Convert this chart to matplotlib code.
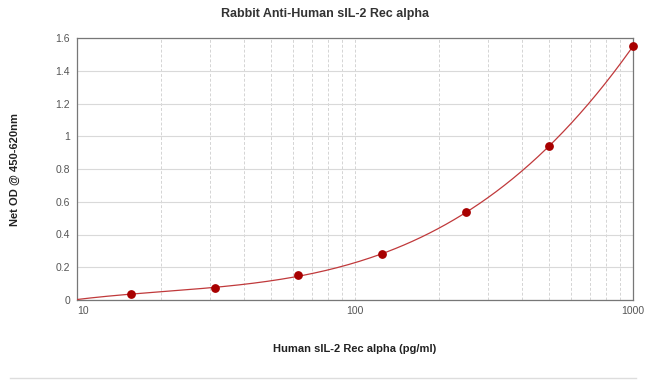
import numpy as np
import matplotlib
matplotlib.use('Agg')
import matplotlib.pyplot as plt
from matplotlib.ticker import FixedLocator, NullFormatter

# Datos
conc = [15.6, 31.25, 62.5, 125, 250, 500, 1000]
od = [0.037, 0.073, 0.15, 0.28, 0.535, 0.94, 1.55]
x_ticks = [10, 100, 1000]
x_tick_labels = ['10', '100', '1000']
y_ticks = [0, 0.2, 0.4, 0.6, 0.8, 1.0, 1.2, 1.4, 1.6]
y_tick_labels = ['0', '0.2', '0.4', '0.6', '0.8', '1', '1.2', '1.4', '1.6']

plt.rcParams['font.family'] = ['Liberation Sans', 'DejaVu Sans']

fig = plt.figure(figsize=(6.5, 3.83), dpi=100)
ax = fig.add_axes([77/650, 1 - 300/383, (633-77)/650, (300-38)/383])

# curva ajustada (polinomio en log10(x)) a partir de los puntos
coef = np.polyfit(np.log10(conc), od, 3)
xc = np.logspace(1, 3, 200)
yc = np.polyval(coef, np.log10(xc))
ax.plot(xc, yc, color='#c0393b', lw=0.9, zorder=3)
ax.scatter(conc, od, s=28, color='#a80000', zorder=4, clip_on=False)

ax.set_xscale('log')
ax.set_xlim(10, 1000)
ax.set_ylim(0, 1.6)

ax.xaxis.set_major_locator(FixedLocator(x_ticks))
ax.set_xticklabels(x_tick_labels)
ax.xaxis.set_minor_locator(FixedLocator([20, 30, 40, 50, 60, 70, 80, 90,
                                         200, 300, 400, 500, 600, 700, 800, 900]))
ax.xaxis.set_minor_formatter(NullFormatter())
ax.set_yticks(y_ticks)
ax.set_yticklabels(y_tick_labels)

ax.grid(True, axis='y', color='#d9d9d9', lw=0.8)
ax.grid(True, axis='x', which='both', color='#d4d4d4', lw=0.7, ls=(0, (3, 2)))
ax.set_axisbelow(True)

ax.tick_params(which='both', length=0, labelsize=7.5, labelcolor='#555555')
ax.tick_params(axis='x', pad=4)
for lbl in ax.get_xticklabels():
    lbl.set_horizontalalignment('left' if lbl.get_text() == '10' else 'center')
ax.tick_params(axis='y', pad=5)

for s in ax.spines.values():
    s.set_color('#777777')
    s.set_linewidth(0.9)

fig.text(0.5, 1 - 14/383, 'Rabbit Anti-Human sIL-2 Rec alpha', ha='center', va='center',
         fontsize=9, fontweight='bold', color='#333333')
fig.text(15/650, 1 - 169/383, 'Net OD @ 450-620nm', ha='center', va='center',
         rotation=90, fontsize=8, fontweight='bold', color='#222222')
fig.text(355/650, 1 - 349/383, 'Human sIL-2 Rec alpha (pg/ml)', ha='center', va='center',
         fontsize=8, fontweight='bold', color='#222222')
fig.add_artist(plt.Line2D([10/650, 636/650], [1 - 378/383, 1 - 378/383],
                          color='#dddddd', lw=1.0))

plt.savefig('out.png', dpi=100)
